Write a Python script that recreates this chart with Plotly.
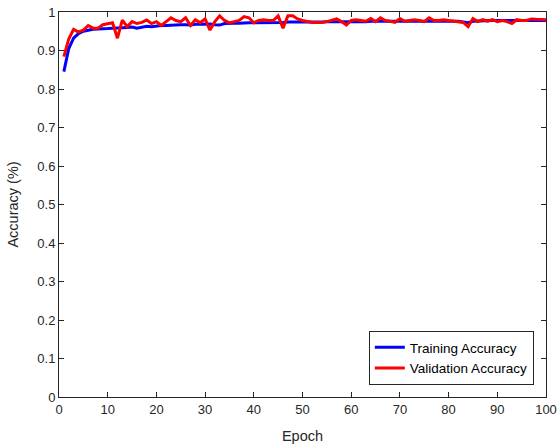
import plotly.graph_objects as go

epochs = list(range(1, 101))

train_acc = [
    0.845, 0.905, 0.932, 0.944, 0.950, 0.953, 0.955, 0.956, 0.956, 0.957,
    0.958, 0.958, 0.959, 0.960, 0.961, 0.958, 0.961, 0.963, 0.962, 0.964,
    0.965, 0.965, 0.966, 0.966, 0.967, 0.967, 0.966, 0.968, 0.968, 0.969,
    0.969, 0.967, 0.966, 0.970, 0.971, 0.971, 0.971, 0.972, 0.972, 0.972,
    0.972, 0.973, 0.973, 0.973, 0.973, 0.973, 0.974, 0.974, 0.974, 0.973,
    0.974, 0.974, 0.974, 0.974, 0.975, 0.975, 0.975, 0.975, 0.974, 0.975,
    0.975, 0.975, 0.975, 0.976, 0.976, 0.976, 0.976, 0.976, 0.976, 0.976,
    0.976, 0.977, 0.977, 0.977, 0.977, 0.977, 0.977, 0.977, 0.977, 0.977,
    0.977, 0.976, 0.974, 0.972, 0.976, 0.977, 0.977, 0.978, 0.978, 0.978,
    0.978, 0.978, 0.977, 0.978, 0.978, 0.978, 0.978, 0.978, 0.978, 0.978,
]

val_acc = [
    0.884, 0.930, 0.955, 0.948, 0.953, 0.965, 0.958, 0.958, 0.967, 0.969,
    0.972, 0.932, 0.979, 0.962, 0.975, 0.970, 0.973, 0.979, 0.970, 0.975,
    0.965, 0.975, 0.985, 0.978, 0.975, 0.985, 0.965, 0.980, 0.972, 0.982,
    0.953, 0.975, 0.990, 0.978, 0.972, 0.975, 0.978, 0.988, 0.985, 0.972,
    0.978, 0.980, 0.978, 0.978, 0.990, 0.958, 0.990, 0.990, 0.982, 0.978,
    0.975, 0.973, 0.973, 0.973, 0.975, 0.978, 0.982, 0.975, 0.966, 0.978,
    0.980, 0.978, 0.976, 0.983, 0.975, 0.985, 0.978, 0.976, 0.973, 0.983,
    0.976, 0.978, 0.980, 0.978, 0.975, 0.985, 0.978, 0.978, 0.980, 0.978,
    0.977, 0.975, 0.973, 0.962, 0.983, 0.975, 0.980, 0.976, 0.980, 0.975,
    0.978, 0.975, 0.970, 0.980, 0.978, 0.978, 0.982, 0.981, 0.981, 0.980,
]

x_ticks = [0, 10, 20, 30, 40, 50, 60, 70, 80, 90, 100]
y_ticks = [0, 0.1, 0.2, 0.3, 0.4, 0.5, 0.6, 0.7, 0.8, 0.9, 1]
y_tick_labels = ["0", "0.1", "0.2", "0.3", "0.4", "0.5", "0.6", "0.7", "0.8", "0.9", "1"]

fig = go.Figure()
fig.add_trace(go.Scatter(x=epochs, y=train_acc, mode="lines", name="Training Accuracy",
                         line=dict(color="#0000ff", width=3)))
fig.add_trace(go.Scatter(x=epochs, y=val_acc, mode="lines", name="Validation Accuracy",
                         line=dict(color="#ff0000", width=3)))

axis_common = dict(
    showgrid=False, zeroline=False, showline=True, linecolor="#262626", linewidth=1,
    mirror="ticks", ticks="inside", ticklen=5, tickcolor="#262626", tickwidth=1,
    automargin=False,
    tickfont=dict(family="Liberation Sans, Arial, sans-serif", size=13, color="#262626"),
)

fig.update_layout(
    width=558, height=444,
    margin=dict(l=59, r=12, t=12, b=47),
    paper_bgcolor="white", plot_bgcolor="white",
    font=dict(family="Liberation Sans, Arial, sans-serif", color="#262626"),
    xaxis=dict(range=[0, 100], tickvals=x_ticks, title=dict(text="Epoch", font=dict(size=14.5)),
               **axis_common),
    yaxis=dict(range=[0, 1], tickvals=y_ticks, ticktext=y_tick_labels,
               title=dict(text="Accuracy (%)", font=dict(size=14.5)), **axis_common),
    legend=dict(x=0.975, y=0.031, xanchor="right", yanchor="bottom",
                bgcolor="white", bordercolor="#262626", borderwidth=1,
                font=dict(size=13.5, color="#000000"), tracegroupgap=0),
    showlegend=True,
)

# remove the default page margin so the figure fills the window exactly
fig.write_html("out.html", config={"displayModeBar": False},
               post_script="document.body.style.margin='0';document.body.style.overflow='hidden';")
